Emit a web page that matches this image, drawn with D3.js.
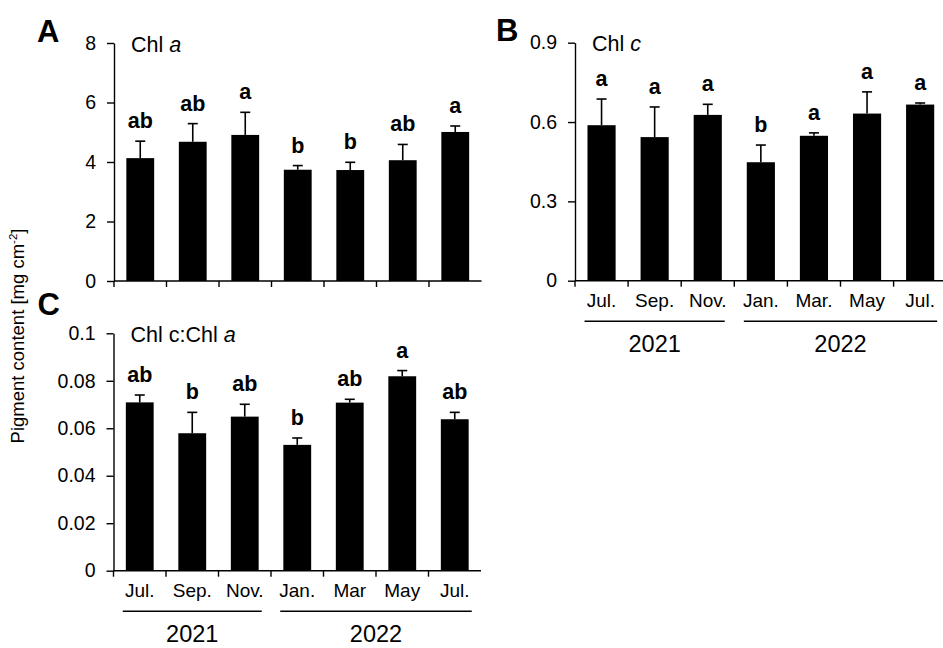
<!DOCTYPE html>
<html>
<head>
<meta charset="utf-8">
<script src="https://cdn.jsdelivr.net/npm/d3@7"></script>
<style>
  html, body { margin: 0; padding: 0; background: #fff; }
  svg { display: block; }
  text { font-family: "Liberation Sans", Arial, Helvetica, sans-serif; fill: #000; }
</style>
</head>
<body>
<svg id="chart" width="943" height="648"></svg>
<script>
// ---------------- DATA ----------------
const monthsB = ["Jul.", "Sep.", "Nov.", "Jan.", "Mar.", "May", "Jul."];
const monthsC = ["Jul.", "Sep.", "Nov.", "Jan.", "Mar", "May", "Jul."];
const years = ["2021", "2022"];
const yearFirstIdx = [0, 3];
const yearLastIdx = [2, 6];

const chlA = [4.13, 4.68, 4.91, 3.74, 3.73, 4.06, 5.01];
const chlAErr = [0.57, 0.61, 0.76, 0.14, 0.26, 0.53, 0.20];
const chlALetters = ["ab", "ab", "a", "b", "b", "ab", "a"];
const chlATicks = [0, 2, 4, 6, 8];

const chlC = [0.588, 0.543, 0.627, 0.448, 0.548, 0.632, 0.666];
const chlCErr = [0.099, 0.114, 0.040, 0.065, 0.011, 0.082, 0.006];
const chlCLetters = ["a", "a", "a", "b", "a", "a", "a"];
const chlCTicks = [0, 0.3, 0.6, 0.9];

const ratio = [0.0709, 0.0579, 0.0649, 0.0530, 0.0708, 0.0819, 0.0638];
const ratioErr = [0.0031, 0.0088, 0.0052, 0.0029, 0.0014, 0.0024, 0.0029];
const ratioLetters = ["ab", "b", "ab", "b", "ab", "a", "ab"];
const ratioTicks = [0, 0.02, 0.04, 0.06, 0.08, 0.1];

// ---------------- DRAW ----------------
const svg = d3.select("#chart");
const FONT = '"Liberation Sans", Arial, Helvetica, sans-serif';

function panel(opt) {
  const g = svg.append("g");
  const n = opt.values.length;
  const idx = d3.range(n);
  const x = d3.scaleBand().domain(idx)
    .range([opt.x0, opt.x0 + opt.step * n])
    .paddingInner(0.47).paddingOuter(0.235);
  const y = d3.scaleLinear().domain([0, opt.ymax]).range([opt.y0, opt.y1]);
  const bw = x.bandwidth();
  const gap = (x.step() - bw) / 2;

  // bars
  g.selectAll("rect.bar").data(idx).join("rect")
    .attr("x", i => x(i))
    .attr("y", i => y(opt.values[i]))
    .attr("width", bw)
    .attr("height", i => y(0) - y(opt.values[i]))
    .attr("fill", "#000");

  // error bars
  const eb = g.selectAll("g.err").data(idx).join("g");
  eb.append("line")
    .attr("x1", i => x(i) + bw / 2).attr("x2", i => x(i) + bw / 2)
    .attr("y1", i => y(opt.values[i])).attr("y2", i => y(opt.values[i] + opt.errs[i]))
    .attr("stroke", "#000").attr("stroke-width", 1.6);
  eb.append("line")
    .attr("x1", i => x(i) + bw / 2 - 5).attr("x2", i => x(i) + bw / 2 + 5)
    .attr("y1", i => y(opt.values[i] + opt.errs[i])).attr("y2", i => y(opt.values[i] + opt.errs[i]))
    .attr("stroke", "#000").attr("stroke-width", 1.6);

  // significance letters
  g.selectAll("text.sig").data(idx).join("text")
    .attr("x", i => x(i) + bw / 2)
    .attr("y", i => y(opt.values[i] + opt.errs[i]) - 13)
    .attr("text-anchor", "middle")
    .attr("font-weight", "bold")
    .attr("font-size", "21.5px")
    .text(i => opt.letters[i]);

  // y axis
  const ya = g.append("g").attr("transform", `translate(${opt.x0},0)`)
    .call(d3.axisLeft(y).tickValues(opt.ticks).tickFormat(d => String(d))
      .tickSize(7).tickSizeOuter(0).tickPadding(11));
  ya.select(".domain").attr("stroke-width", 1.4);
  ya.selectAll(".tick line").attr("stroke-width", 1.4);
  ya.selectAll(".tick text").attr("font-size", "19.5px").attr("font-family", FONT);

  // x axis: baseline and ticks at band boundaries
  g.append("line")
    .attr("x1", opt.x0).attr("x2", opt.x0 + opt.step * n)
    .attr("y1", y(0)).attr("y2", y(0))
    .attr("stroke", "#000").attr("stroke-width", 1.4);
  g.selectAll("line.xt").data(idx).join("line")
    .attr("x1", i => x(i) - gap).attr("x2", i => x(i) - gap)
    .attr("y1", y(0)).attr("y2", y(0) + 6)
    .attr("stroke", "#000").attr("stroke-width", 1.4);

  // panel title
  const t = g.append("text")
    .attr("x", opt.x0 + 17).attr("y", opt.y1 + 8.5)
    .attr("font-size", "21.5px");
  opt.title.forEach(p => t.append("tspan").attr("font-style", p[1] ? "italic" : "normal").text(p[0]));

  // panel letter
  g.append("text").attr("x", opt.lx).attr("y", opt.ly)
    .attr("font-weight", "bold").attr("font-size", "31px").text(opt.label);

  // month labels & years
  if (opt.months) {
    g.selectAll("text.mon").data(idx).join("text")
      .attr("x", i => x(i) + bw / 2)
      .attr("y", y(0) + 26)
      .attr("text-anchor", "middle")
      .attr("font-size", "19px")
      .text(i => opt.months[i]);
    years.forEach((yr, k) => {
      const xs = x(yearFirstIdx[k]) + bw / 2 - 17;
      const xe = x(yearLastIdx[k]) + bw / 2 + 17;
      g.append("line").attr("x1", xs).attr("x2", xe)
        .attr("y1", y(0) + 40.5).attr("y2", y(0) + 40.5)
        .attr("stroke", "#000").attr("stroke-width", 1.4);
      g.append("text").attr("x", (xs + xe) / 2).attr("y", y(0) + 71.5)
        .attr("text-anchor", "middle").attr("font-size", "23.5px").text(yr);
    });
  }
}

panel({ values: chlA, errs: chlAErr, letters: chlALetters, ticks: chlATicks, ymax: 8,
        x0: 114, step: 52.5, y0: 281, y1: 43, title: [["Chl ", false], ["a", true]],
        label: "A", lx: 37, ly: 41.5, months: null });

panel({ values: chlC, errs: chlCErr, letters: chlCLetters, ticks: chlCTicks, ymax: 0.9,
        x0: 575, step: 53.1, y0: 280.7, y1: 42.7, title: [["Chl ", false], ["c", true]],
        label: "B", lx: 496, ly: 40.7, months: monthsB });

panel({ values: ratio, errs: ratioErr, letters: ratioLetters, ticks: ratioTicks, ymax: 0.1,
        x0: 113.5, step: 52.5, y0: 570.7, y1: 333.3, title: [["Chl c:Chl ", false], ["a", true]],
        label: "C", lx: 37.5, ly: 315, months: monthsC });

// shared y-axis label
const yl = svg.append("text")
  .attr("transform", "translate(24,336) rotate(-90)")
  .attr("text-anchor", "middle")
  .attr("font-size", "18.5px");
yl.append("tspan").text("Pigment content [mg cm");
yl.append("tspan").attr("font-size", "11.5px").attr("dy", "-7").text("-2");
yl.append("tspan").attr("dy", "7").text("]");
</script>
</body>
</html>
